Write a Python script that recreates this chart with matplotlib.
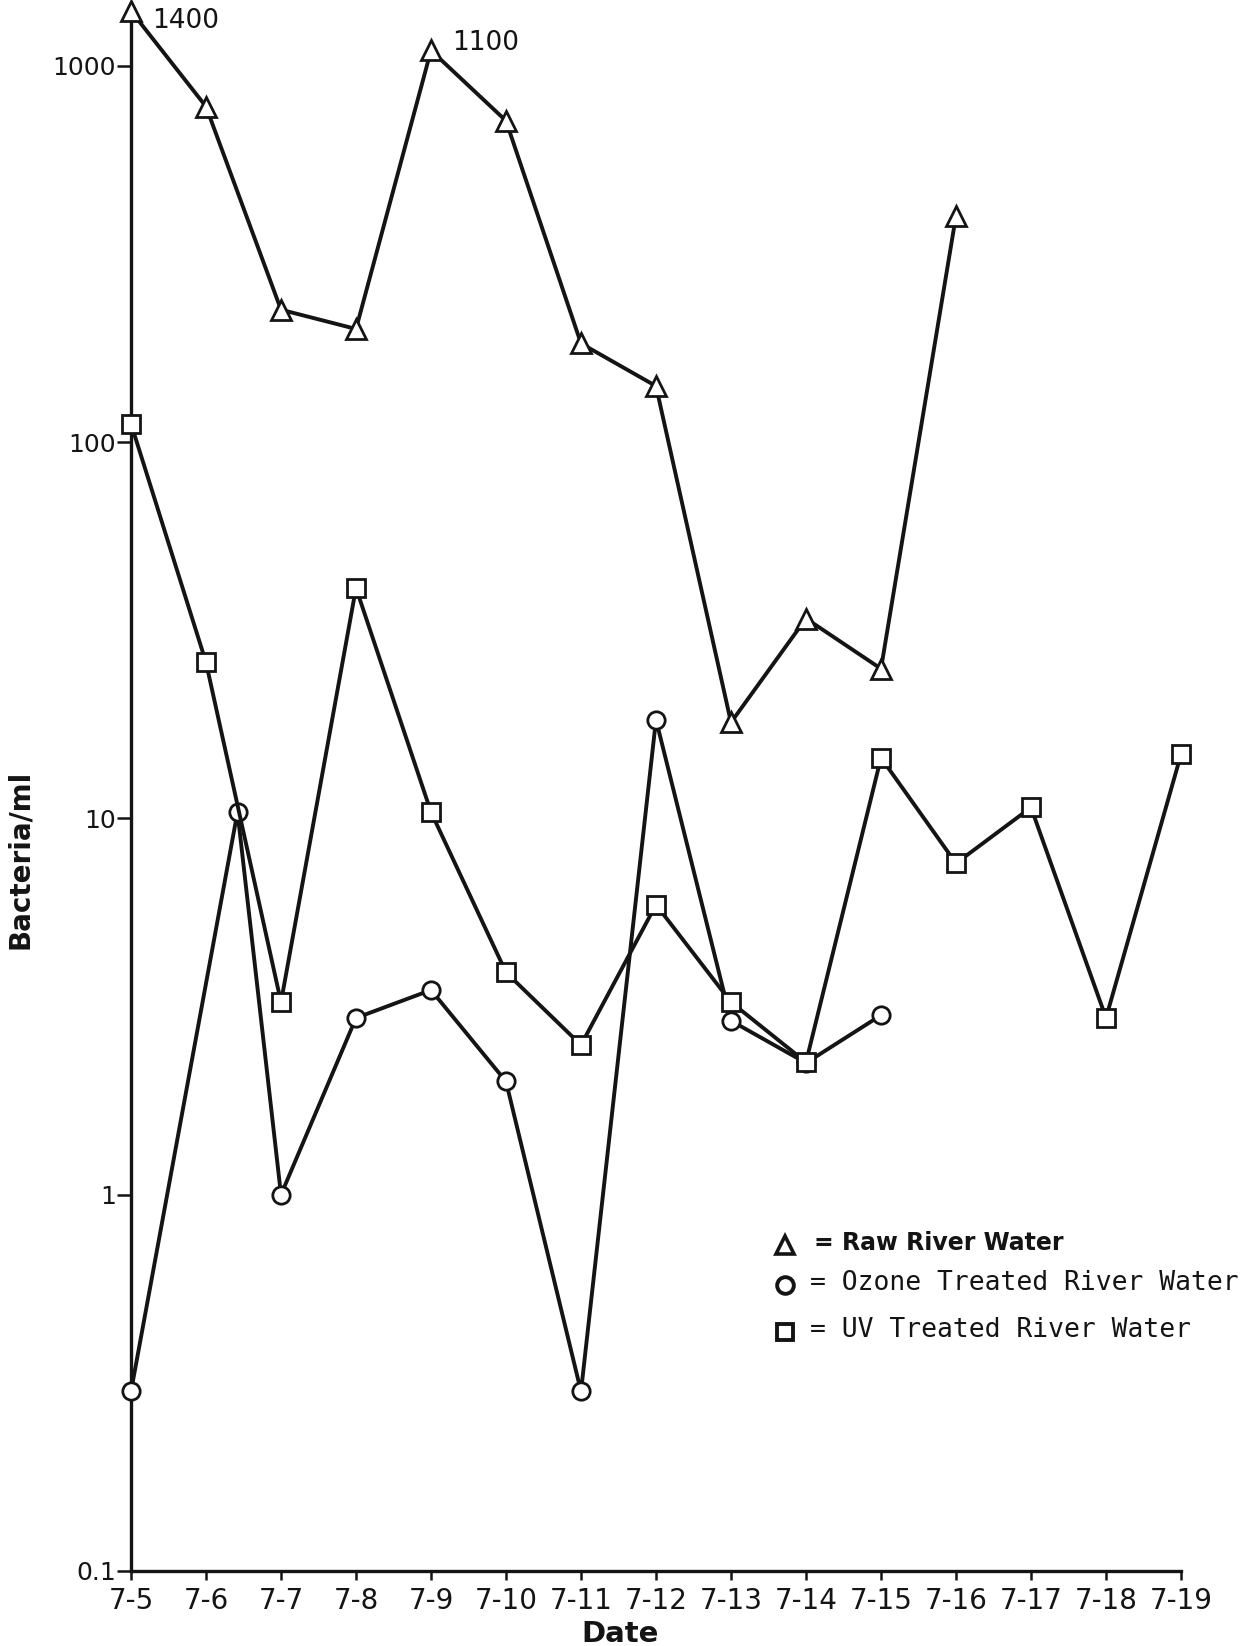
import matplotlib
matplotlib.use('Agg')
import matplotlib.pyplot as plt
import numpy as np

# dates along the x axis (day 0 = 7-5)
dates = ['7-5','7-6','7-7','7-8','7-9','7-10','7-11','7-12','7-13','7-14','7-15','7-16','7-17','7-18','7-19']

# Raw river water (triangles)
raw_day = [0, 1, 2, 3, 4, 5, 6, 7, 8, 9, 10, 11]
raw = [1400, 780, 225, 200, 1100, 715, 183, 141, 18, 34, 25, 400]

# Ozone treated river water (circles)
ozone_day = [0, 1.42, 2, 3, 4, 5, 6, 7, 8, 9, 10]
ozone = [0.3, 10.4, 1.0, 2.95, 3.5, 2.0, 0.3, 18.3, 2.9, 2.24, 3.0]

# UV treated river water (squares)
uv_day = [0, 1, 2, 3, 4, 5, 6, 7, 8, 9, 10, 11, 12, 13, 14]
uv = [112, 26, 3.25, 41, 10.4, 3.9, 2.5, 5.9, 3.25, 2.25, 14.5, 7.6, 10.7, 2.95, 14.8]

ytick_vals = [0.1, 1, 10, 100, 1000]
ytick_labels = ['0.1', '1', '10', '100', '1000']

ink = '#141414'
lw = 2.8
mew = 2.0

fig = plt.figure(figsize=(12.5, 16.46), dpi=100)
ax = fig.add_axes([0.1048, 0.04557, 0.84, 0.94775])

ax.plot(raw_day, raw, color=ink, lw=lw, marker='^', ms=15, mfc='white',
        mec=ink, mew=mew, clip_on=False, zorder=3)
ax.plot(ozone_day, ozone, color=ink, lw=lw, marker='o', ms=12.5, mfc='white',
        mec=ink, mew=mew, clip_on=False, zorder=3)
ax.plot(uv_day, uv, color=ink, lw=lw, marker='s', ms=12.5, mfc='white',
        mec=ink, mew=mew, clip_on=False, zorder=4)

ax.annotate('1400', xy=(raw_day[0], raw[0]), xytext=(15, -7), textcoords='offset points',
            fontsize=19, ha='left', va='center', color=ink)
ax.annotate('1100', xy=(raw_day[4], raw[4]), xytext=(15, 5), textcoords='offset points',
            fontsize=19, ha='left', va='center', color=ink)

ax.set_yscale('log')
ax.set_ylim(0.1, 1400)
ax.set_xlim(0, 14)
ax.set_yticks(ytick_vals)
ax.set_yticklabels(ytick_labels)
ax.yaxis.set_minor_locator(matplotlib.ticker.NullLocator())
ax.set_xticks(np.arange(len(dates)))
ax.set_xticklabels(dates)

for s in ['top', 'right']:
    ax.spines[s].set_visible(False)
for s in ['left', 'bottom']:
    ax.spines[s].set_linewidth(2.4)
    ax.spines[s].set_color(ink)

ax.tick_params(axis='y', direction='out', length=10, width=1.8, pad=1, labelsize=18, colors=ink)
ax.tick_params(axis='x', direction='out', length=6.5, width=1.8, pad=5, labelsize=20, colors=ink)

ax.set_xlabel('Date', fontsize=21, fontweight='bold', color=ink)
ax.xaxis.set_label_coords(0.466, -0.0315)
ax.set_ylabel('Bacteria/ml', fontsize=20, fontweight='bold', color=ink)
ax.yaxis.set_label_coords(-0.092, 0.456)

# hand-made key
key_x = 0.628
rows = [0.2436, 0.2193, 0.1908]
fig.add_artist(plt.Line2D([key_x], [rows[0]], marker='^', ms=13, mfc='white', mec=ink, mew=2.6,
                          transform=fig.transFigure))
fig.add_artist(plt.Line2D([key_x], [rows[1]], marker='o', ms=12, mfc='white', mec=ink, mew=2.8,
                          transform=fig.transFigure))
fig.add_artist(plt.Line2D([key_x], [rows[2]], marker='s', ms=12, mfc='white', mec=ink, mew=2.8,
                          transform=fig.transFigure))
fig.text(0.651, rows[0] + 0.001, '= Raw River Water', fontsize=17, fontweight='bold',
         va='center', ha='left', color=ink)
fig.text(0.648, rows[1] + 0.001, '= Ozone Treated River Water', fontsize=19,
         family='DejaVu Sans Mono', va='center', ha='left', color=ink)
fig.text(0.648, rows[2] + 0.001, '= UV Treated River Water', fontsize=19,
         family='DejaVu Sans Mono', va='center', ha='left', color=ink)

fig.savefig('out.png', dpi=100, facecolor='white')
